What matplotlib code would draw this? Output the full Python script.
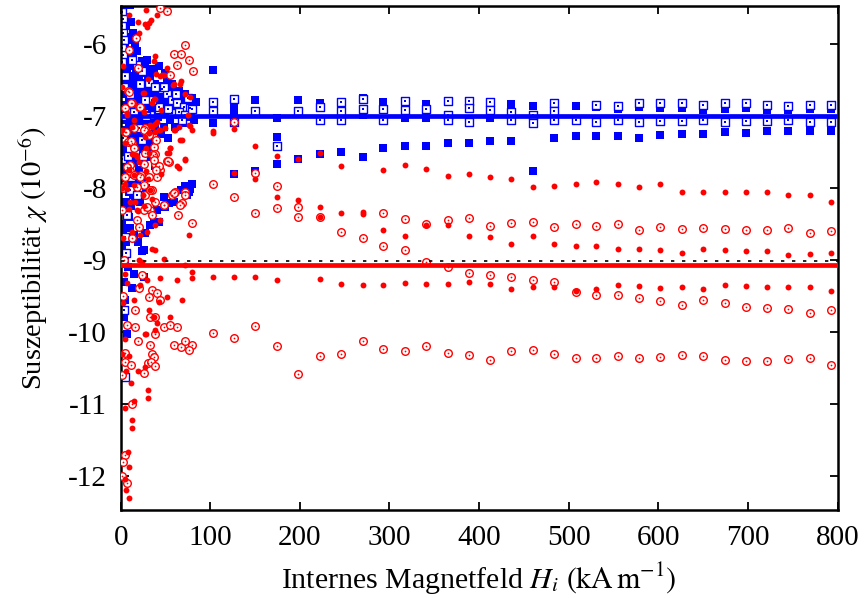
import matplotlib
matplotlib.use("Agg")
import matplotlib.pyplot as plt

# ---------------- data ----------------
# field columns of the high-field sweep (kA/m)
H_COLS = [103, 127, 150, 174, 198, 222, 246, 270, 293, 317, 341, 365, 389, 412, 436,
          460, 484, 508, 531, 555, 579, 602, 626, 650, 674, 698, 721, 745, 769, 793]

# red filled circles, high-field tracks
red_fill_A_x = H_COLS[0:7] + H_COLS[8:]
red_fill_A_y = [-7.21, -7.18, -7.41, -7.56, -7.60, -7.51, -7.70,
                -7.75, -7.68, -7.74, -7.83, -7.81, -7.84, -7.88, -7.98, -7.97, -7.95, -7.92,
                -7.94, -7.98, -7.94, -8.05, -8.05, -8.06, -8.06, -8.06, -8.09, -8.10, -8.20]
red_fill_B_x = H_COLS[1:]
red_fill_B_y = [-7.79, -7.88, -8.13, -8.16, -8.26, -8.35, -8.36,
                -8.58, -8.67, -8.52, -8.52, -8.67, -8.68, -8.77, -8.67, -8.78, -8.80, -8.80,
                -8.85, -8.85, -8.86, -8.90, -8.85, -8.86, -8.88, -8.88, -8.93, -8.92, -8.90]
red_fill_C_x = [103, 127, 150, 174, 222] + H_COLS[6:]
red_fill_C_y = [-9.23, -9.23, -9.24, -9.27, -9.26, -9.33,
                -9.35, -9.35, -9.32, -9.33, -9.33, -9.30, -9.33, -9.40, -9.38, -9.37, -9.43,
                -9.40, -9.34, -9.36, -9.39, -9.37, -9.40, -9.34, -9.36, -9.38, -9.38, -9.37, -9.43]
red_fill_extra_x = [103, 222, 270]
red_fill_extra_y = [-7.23, -8.40, -8.33]

# red open circles (with centre dot), high-field tracks
red_open_1_x = [127, 150, 174, 198] + H_COLS[8:]
red_open_1_y = [-7.08, -7.79, -7.97, -8.26,
                -8.35, -8.43, -8.50, -8.44, -8.41, -8.53, -8.49, -8.47, -8.54, -8.50, -8.53,
                -8.50, -8.58, -8.54, -8.57, -8.55, -8.57, -8.58, -8.58, -8.55, -8.62, -8.60]
red_open_2_x = H_COLS
red_open_2_y = [-7.94, -8.12, -8.34, -8.28, -8.40, -8.40, -8.61, -8.70, -8.80, -8.86,
                -9.02, -9.09, -9.18, -9.21, -9.24, -9.27, -9.31, -9.45, -9.49, -9.48,
                -9.52, -9.57, -9.62, -9.56, -9.60, -9.65, -9.67, -9.68, -9.73, -9.70]
red_open_3_x = H_COLS
red_open_3_y = [-10.01, -10.08, -9.92, -10.19, -10.58, -10.33, -10.31, -10.13, -10.23, -10.26,
                -10.20, -10.29, -10.32, -10.39, -10.26, -10.25, -10.30, -10.36, -10.36, -10.33,
                -10.36, -10.34, -10.32, -10.33, -10.39, -10.40, -10.40, -10.37, -10.36, -10.46]

# blue filled squares, high-field
blue_fill_T_x = H_COLS
blue_fill_T_y = [-6.36, -7.81, -7.77, -7.66, -7.60, -7.53, -7.50, -7.57, -7.45, -7.42,
                 -7.42, -7.38, -7.38, -7.34, -7.34, -7.77, -7.31, -7.28, -7.28, -7.28,
                 -7.30, -7.27, -7.25, -7.25, -7.22, -7.24, -7.21, -7.21, -7.21, -7.21]
blue_fill_U_x = [127, 150, 198, 222, 270, 293, 341, 389, 412, 436, 460, 508, 531, 555,
                 579, 602, 626, 650, 674, 698, 721, 745, 769, 793]
blue_fill_U_y = [-6.84, -6.78, -6.78, -6.82, -6.75, -6.81, -6.83, -6.84, -6.81, -6.83,
                 -6.86, -6.86, -6.88, -6.90, -6.87, -6.89, -6.885, -6.91, -6.90, -6.885,
                 -6.91, -6.91, -6.90, -6.90]
blue_fill_L_x = [103, 127, 174, 174, 270, 317, 341, 412, 484]
blue_fill_L_y = [-7.10, -6.95, -7.03, -7.29, -6.99, -7.03, -7.03, -7.03, -7.02]

# blue open squares (with centre dot), high-field
blue_open_hf_x = [103, 103, 127, 127, 150, 174, 198, 222, 222, 246, 246, 246, 270, 270,
                  293, 293, 317, 317, 341, 365, 365, 365, 389, 389, 389, 412, 412, 436, 436,
                  460, 460, 484, 484, 484, 508, 531, 531, 555, 555, 579, 579, 602, 602,
                  626, 626, 650, 650, 674, 674, 698, 698, 721, 721, 745, 745, 769, 769, 793, 793]
blue_open_hf_y = [-6.80, -6.93, -6.77, -7.08, -6.93, -7.41, -6.93, -6.88, -7.05, -6.81, -6.93,
                  -7.05, -6.76, -6.90, -6.90, -7.06, -6.79, -6.91, -6.90, -6.79, -6.98, -7.06,
                  -6.79, -6.885, -7.08, -6.80, -6.92, -6.95, -7.05, -6.98, -7.09, -6.815, -6.93,
                  -7.05, -7.05, -6.84, -7.085, -6.86, -7.06, -6.815, -7.08, -6.815, -7.07,
                  -6.815, -7.07, -6.84, -7.06, -6.815, -7.085, -6.82, -7.07, -6.84, -7.07,
                  -6.86, -7.06, -6.84, -7.085, -6.85, -7.085]

# low-field cluster (H < 90 kA/m)
red_fill_lf_x = [27.9, 19.3, 26.8, 31.2, 34.2, 40.5, 29.4, 20.8, 38, 37.3, 51.7, 46.1, 44.3,
                 67.7, 59.2, 38.7, 24.5, 77.8, 75.2, 38.7, 35, 42.4, 49.9, 59.2, 66.7, 77.8,
                 31.2, 27.5, 55.4, 51.7, 71.4, 62.9, 12.6, 18.2, 5.2, 7, 12.6, 35, 45.4, 25.6,
                 28.3, 9.6, 15.2, 45.4, 9.6,
                 5.2, 14.5, 10.8, 18.2, 12.6, 21.9, 29.4, 35, 38.7, 48, 75.9, 44.3, 20.1,
                 23.8, 5.2, 7, 21.9, 29.4, 44.3, 62.9, 79.6, 51.7, 68.5, 14.5, 31.2, 42.4,
                 36.8, 55.4, 40.5, 27.5, 38.7,
                 5.2, 28.3, 9.6, 27.5, 19.3, 5.9, 11.9, 30.5, 14.5, 5.2, 12.6, 8.1, 8.9,
                 4.4, 5.9, 9.6,
                 25.3, 32.7, 19.7, 38.3, 71.8, 79.3, 30.1, 13, 3, 2, 3, 2, 1.5, 3, 2,
                 39.4, 48.7, 30.1, 58.5, 66, 26.4, 37.5, 71.5, 7.1, 14.5, 33.1, 40.5, 38.7,
                 44.3, 64.7, 61, 75.9, 79.6, 68.5, 55.4, 53.5, 72.3, 64.8, 28.2, 32, 17,
                 20.9, 30.1, 7.1, 16.3, 25.6, 35, 9.7]
red_fill_lf_y = [-5.53, -5.69, -5.72, -5.71, -5.66, -5.60, -5.77, -5.85, -6.16, -6.23, -6.34,
                 -6.43, -6.44, -6.52, -6.56, -6.77, -6.68, -6.73, -6.98, -7.11, -7.15, -7.20,
                 -7.17, -7.20, -7.33, -7.14, -7.24, -7.29, -7.45, -7.52, -7.59, -7.70, -7.53,
                 -7.57, -7.38, -6.96, -7.15, -6.82, -6.92, -6.94, -7.77, -7.75, -7.82, -7.80,
                 -5.60,
                 -7.94, -7.96, -8.19, -8.31, -8.61, -8.65, -8.61, -8.84, -8.86, -8.98, -8.65,
                 -8.44, -9.00, -9.02, -9.19, -9.32, -9.35, -9.28, -9.25, -9.28, -9.25, -9.51,
                 -9.56, -9.56, -9.69, -9.58, -9.79, -9.79, -9.88, -10.02, -9.97,
                 -10.10, -10.03, -10.33, -10.48, -10.54, -10.54, -10.71, -10.92, -10.96,
                 -11.05, -11.33, -11.67, -11.87, -12.04, -12.19, -12.31,
                 -8.10, -8.03, -8.32, -8.52, -9.07, -9.16, -10.81, -11.22, -9.60, -10.30,
                 -8.70, -8.00, -6.60, -6.30, -7.20,
                 -6.41, -6.43, -6.48, -6.57, -6.55, -6.68, -6.77, -6.70, -6.99, -7.06, -7.13,
                 -7.08, -7.22, -7.20, -7.15, -7.20, -7.13, -7.20, -7.33, -7.45, -7.51, -7.61,
                 -7.72, -7.45, -7.51, -7.54, -7.64, -7.87, -8.01, -8.20, -8.25, -8.15, -8.29]

red_open_lf_x = [43.5, 51.7, 17.1, 9.6, 71.4, 59.2, 67.7, 75.9, 63.2, 80.4, 19.3, 8.1, 12.6,
                 20.8, 5.2, 5.2, 14.5, 27.5, 29.4, 8.1, 12.6, 27.5, 36.8, 38.7, 51.7, 38.7,
                 25.6, 9.9, 44.3, 53.6, 23.1, 31.2, 40.5,
                 25.6, 35, 27.5, 33.1, 35, 18.2, 25.6, 20.1, 12.6, 57.3, 61, 68.5, 48, 64,
                 79.6, 72.2, 38.7, 23.8, 35, 40.5, 20.1, 31.2, 44.3, 16.4, 33.1, 38.7, 7,
                 16.4, 48, 55.4, 62.9, 38.7,
                 19.3, 33.1, 59.2, 67.7, 71.4, 79.6, 75.9, 5.2, 35, 36.8, 4.4, 11.9, 30.5,
                 34.2, 37.9, 25.6, 12.6, 5.2, 7,
                 3, 2, 4, 3, 2, 3, 2,
                 54.5, 9.7, 21.7, 11.6, 6, 26.4, 32, 39.4, 11.6, 15.3, 35.7, 37.5, 43.1, 52.4,
                 39.4, 7.1, 10.1, 14.5, 5.2, 22, 18.2, 33.1, 59.2, 72.3, 66.7, 48.1, 29.4]
red_open_lf_y = [-5.50, -5.54, -5.91, -6.08, -6.02, -6.14, -6.14, -6.22, -6.29, -6.38, -6.33,
                 -6.65, -6.82, -6.87, -6.89, -7.22, -7.17, -7.17, -7.23, -7.36, -7.38, -7.52,
                 -7.43, -7.53, -7.63, -7.67, -7.66, -7.68, -7.75, -7.64, -7.82, -7.84, -7.84,
                 -7.96, -8.03, -8.10, -8.31, -8.38, -8.44, -8.31, -8.54, -8.70, -8.10, -8.06,
                 -8.21, -8.24, -8.38, -8.48, -8.05, -8.19, -9.21, -9.42, -9.46, -9.39, -9.51,
                 -9.56, -9.69, -9.79, -9.79, -9.90, -9.93, -9.93, -9.90, -9.93, -10.02,
                 -10.13, -10.18, -10.18, -10.21, -10.13, -10.18, -10.25, -10.29, -10.30,
                 -10.34, -10.41, -10.46, -10.43, -10.41, -10.47, -10.57, -11.00, -11.71, -12.09,
                 -8.00, -8.30, -9.00, -9.50, -10.60, -11.80, -12.00,
                 -6.43, -6.66, -6.87, -6.82, -7.22, -7.20, -7.27, -7.33, -7.35, -7.45, -7.54,
                 -7.61, -7.70, -7.63, -7.75, -7.71, -7.77, -7.82, -7.85, -7.85, -7.98, -8.03,
                 -8.07, -8.10, -8.24, -8.24, -8.27]

blue_fill_lf_x = [1.5, 2, 1, 3, 2, 1.5, 2.5, 1.5, 2, 1, 3, 1.5, 2, 1, 3.3, 2, 1.5, 5.2, 1.5,
                  12.6, 5.2, 3.3, 7, 25.6,
                  10.8, 16.1, 18.7, 14, 23.8, 29.4, 8.9, 16.4, 25.6, 33.1, 38.7, 46.1, 53.6,
                  61, 68.5, 75.9, 55.4, 62.9, 48, 42.4, 31.2, 20.1, 12.6, 21.9, 35, 49.9,
                  64.7, 75.9, 27.5, 16.4, 8.9, 38.7, 48, 61, 21.9, 31.2, 12.6, 20.1, 31.2,
                  12.6, 7, 23.8, 35, 42.4, 49.9, 36.8, 57.3,
                  67.7, 77.8, 74.1, 48, 59.2, 53.6, 49.8, 42.4, 36.8, 40.5, 33.1, 27.5, 23.8,
                  25.6, 8.9, 25.3, 38.3, 18, 28, 14]
blue_fill_lf_y = [-5.50, -5.80, -6.00, -6.20, -6.35, -6.50, -6.70, -6.90, -7.00, -7.20, -7.40,
                  -7.60, -7.75, -7.95, -8.24, -8.50, -8.85, -8.98, -9.05, -9.39, -9.56, -9.79,
                  -10.02, -9.23,
                  -5.46, -5.99, -6.10, -6.15, -6.24, -6.22, -6.50, -6.50, -6.54, -6.47, -6.56,
                  -6.59, -6.68, -6.75, -6.78, -6.82, -6.82, -6.87, -6.87, -6.73, -6.75, -6.73,
                  -6.73, -6.92, -6.94, -6.96, -6.98, -7.01, -7.05, -7.08, -7.15, -7.17, -7.15,
                  -7.15, -7.24, -7.33, -7.38, -7.43, -7.43, -7.57, -7.66, -7.61, -7.57, -6.31,
                  -6.40, -6.38, -6.56,
                  -8.03, -8.01, -8.10, -8.13, -8.19, -8.21, -8.26, -8.47, -8.49, -8.31, -8.51,
                  -8.63, -8.88, -8.86, -8.40, -7.47, -7.70, -7.90, -8.00, -8.10]

# dense core of the blue cluster
blue_fill_core_x = [4, 6, 8, 5, 9, 12, 6, 3, 11, 14,
                    4, 7, 10, 13, 17, 20, 24, 27, 30, 34, 4, 8, 11, 15, 18, 22, 26, 29, 33, 37,
                    5, 9, 13, 17, 20, 24, 28, 32, 36, 40, 44, 5, 9, 12, 15, 19, 23, 26, 30, 34,
                    4, 8, 14, 18, 25, 28,
                    52, 58, 65, 72, 80, 84, 45, 50, 57, 66, 73, 79, 82, 42, 55, 69, 45, 53,
                    3, 6, 10, 5, 9, 13, 17, 20, 24, 6, 11, 16, 22, 15,
                    72, 80, 76, 3, 6, 10, 15, 19, 8, 4, 15]
blue_fill_core_y = [-5.62, -5.75, -5.90, -6.05, -6.10, -5.95, -6.20, -5.90, -5.70, -5.85,
                    -6.30, -6.40, -6.30, -6.45, -6.35, -6.45, -6.40, -6.30, -6.45, -6.35,
                    -6.60, -6.65, -6.58, -6.62, -6.60, -6.65, -6.62, -6.60, -6.65, -6.70,
                    -6.85, -6.80, -6.85, -6.80, -6.88, -6.80, -6.86, -6.82, -6.88, -6.80, -6.78,
                    -7.05, -7.00, -7.10, -7.02, -7.10, -7.00, -7.12, -7.05, -7.10,
                    -7.25, -7.30, -7.25, -7.35, -7.30, -7.45,
                    -6.50, -6.62, -6.65, -6.70, -6.75, -6.80, -6.70, -6.78, -6.90, -6.88, -6.92,
                    -6.95, -7.05, -7.02, -7.05, -7.10, -7.25, -7.30,
                    -7.50, -7.70, -7.80, -7.95, -8.05, -7.95, -8.00, -7.75, -7.85, -8.20, -8.25,
                    -8.15, -8.20, -7.65,
                    -7.97, -7.95, -8.05, -8.60, -8.75, -8.55, -8.65, -8.75, -9.10, -9.30, -9.20]

blue_open_lf_x = [1.5, 3, 1.5, 2.5, 3.5, 2, 3, 2, 4, 2, 3, 2, 3, 10.8, 7, 5.2, 3.3, 4.4,
                  46.1, 51.7, 57.3, 62.9, 70.4, 77.8, 42.4, 35, 31.2, 23.8, 18.2, 12.6, 27.5,
                  20.1, 23.8, 33.1, 57.3, 64.7, 72.2,
                  5, 10, 15, 22, 28, 38, 48, 53, 62, 68, 75, 80, 8, 12, 18, 25, 6, 30]
blue_open_lf_y = [-5.55, -5.65, -5.75, -5.85, -5.95, -6.05, -6.15, -6.25, -6.60, -7.00, -7.30,
                  -7.60, -7.90, -8.03, -8.38, -8.68, -9.69, -10.63,
                  -6.63, -6.70, -6.78, -6.82, -6.87, -6.89, -6.87, -6.78, -6.54, -6.38, -6.29,
                  -6.22, -6.78, -7.17, -7.33, -6.98, -6.96, -6.94, -6.98,
                  -6.45, -6.70, -6.95, -6.55, -7.00, -6.60, -6.60, -6.90, -6.70, -7.05, -6.75,
                  -6.90, -7.55, -7.85, -8.10, -7.55, -8.90, -7.25]

# reference lines
CHI_BLUE_MEAN = -7.00
CHI_RED_MEAN = -9.075
CHI_REF_DASHED = -9.015

X_TICKS = [0, 100, 200, 300, 400, 500, 600, 700, 800]
Y_TICKS = [-6, -7, -8, -9, -10, -11, -12]
Y_TICK_LABELS = ["-6", "-7", "-8", "-9", "-10", "-11", "-12"]

# ---------------- style ----------------
plt.rcParams["font.family"] = ["Liberation Serif", "DejaVu Serif"]
plt.rcParams["mathtext.fontset"] = "stix"

BLUE = "#0000ff"
RED = "#ff0000"

fig = plt.figure(figsize=(8.67, 5.98), dpi=100)
ax = fig.add_axes([0.1392, 0.1472, 0.8268, 0.8428])

def cat(*lists):
    out = []
    for l in lists:
        out += list(l)
    return out

bf_x = cat(blue_fill_T_x, blue_fill_U_x, blue_fill_L_x, blue_fill_lf_x, blue_fill_core_x)
bf_y = cat(blue_fill_T_y, blue_fill_U_y, blue_fill_L_y, blue_fill_lf_y, blue_fill_core_y)
bo_x = cat(blue_open_hf_x, blue_open_lf_x)
bo_y = cat(blue_open_hf_y, blue_open_lf_y)
rf_x = cat(red_fill_A_x, red_fill_B_x, red_fill_C_x, red_fill_extra_x, red_fill_lf_x)
rf_y = cat(red_fill_A_y, red_fill_B_y, red_fill_C_y, red_fill_extra_y, red_fill_lf_y)
ro_x = cat(red_open_1_x, red_open_2_x, red_open_3_x, red_open_lf_x)
ro_y = cat(red_open_1_y, red_open_2_y, red_open_3_y, red_open_lf_y)

# blue squares
ax.scatter(bf_x, bf_y, s=30, marker="s", color=BLUE, linewidths=0, zorder=2)
ax.scatter(bo_x, bo_y, s=34, marker="s", facecolor="white", edgecolor=BLUE,
           linewidths=1.0, zorder=2.1)
ax.scatter(bo_x, bo_y, s=1.6, marker="s", color=BLUE, linewidths=0, zorder=2.2)
ax.axhline(CHI_BLUE_MEAN, color=BLUE, lw=3.4, zorder=3)

# red circles
ax.scatter(ro_x, ro_y, s=30, marker="o", facecolor="white", edgecolor=RED,
           linewidths=1.0, zorder=4)
ax.scatter(ro_x, ro_y, s=1.6, marker="o", color=RED, linewidths=0, zorder=4.1)
ax.scatter(rf_x, rf_y, s=18, marker="o", color=RED, linewidths=0, zorder=4.2)
ax.axhline(CHI_RED_MEAN, color=RED, lw=3.4, zorder=5)
ax.axhline(CHI_REF_DASHED, color="black", lw=1.2, dashes=(2.0, 4.6), zorder=6)

ax.set_xlim(0, 800)
ax.set_ylim(-12.47, -5.472)
ax.set_xticks(X_TICKS)
ax.set_xticklabels([str(t) for t in X_TICKS])
ax.set_yticks(Y_TICKS)
ax.set_yticklabels(Y_TICK_LABELS)
ax.tick_params(direction="in", length=5.5, width=1.3, top=True, right=True,
               labelsize=21)
ax.tick_params(axis="x", pad=11)
ax.tick_params(axis="y", pad=10)
for sp in ax.spines.values():
    sp.set_linewidth(1.8)

ax.set_xlabel(r"Internes Magnetfeld $H_i$ $\left(\mathrm{kA\,m^{-1}}\right)$",
              fontsize=21.5, labelpad=7)
ax.set_ylabel(r"Suszeptibilität $\chi$ $\left(10^{-6}\right)$", fontsize=20.5, labelpad=13)

fig.savefig("out.png", dpi=100)
